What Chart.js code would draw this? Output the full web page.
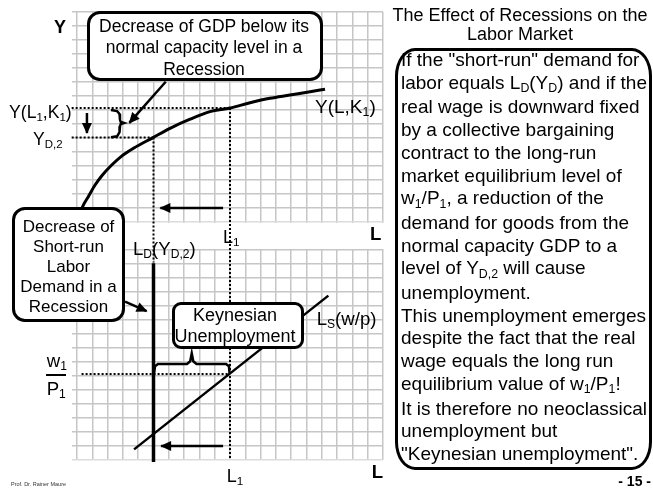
<!DOCTYPE html>
<html>
<head>
<meta charset="utf-8">
<script src="https://cdn.jsdelivr.net/npm/chart.js@4.4.1/dist/chart.umd.min.js"></script>
<style>
  html, body { margin:0; padding:0; background:#fff; overflow:hidden; }
  body { width:653px; height:488px; position:relative; font-family:"Liberation Sans", Arial, sans-serif; color:#000; }
  #c { position:absolute; left:0; top:0; }
  .abs { position:absolute; white-space:pre; }
  .box { position:absolute; box-sizing:border-box; background:#fff; border:3px solid #000; }
  .sub { font-size:.65em; position:relative; top:.28em; }
  .b { font-weight:bold; }
</style>
</head>
<body>
<canvas id="c" width="653" height="488"></canvas>

<!-- right-hand title and text box -->
<div class="abs" style="left:385px;width:270px;top:6.3px;font-size:18px;line-height:18.3px;text-align:center;">The Effect of Recessions on the
Labor Market</div>
<div class="box" style="left:395px;top:48px;width:257px;height:422px;border-width:3.5px;border-radius:20px / 28px;"></div>
<div class="abs" style="left:401px;top:49px;font-size:19px;line-height:22.7px;">If the "short-run" demand for
labor equals L<span class="sub">D</span>(Y<span class="sub">D</span>) and if the
real wage is downward fixed
by a collective bargaining
contract to the long-run
market equilibrium level of
w<span class="sub">1</span>/P<span class="sub">1</span>, a reduction of the
demand for goods from the
normal capacity GDP to a
level of Y<span class="sub">D,2</span> will cause
unemployment.
This unemployment emerges
despite the fact that the real
wage equals the long run
equilibrium value of w<span class="sub">1</span>/P<span class="sub">1</span>!
It is therefore no neoclassical
unemployment but
"Keynesian unemployment".</div>

<!-- callout boxes -->
<div class="box" style="left:87px;top:11px;width:236px;height:70px;border-radius:13px;"></div>
<div class="abs" style="left:86px;width:236px;top:16px;font-size:17.5px;line-height:21.3px;text-align:center;">Decrease of GDP below its
normal capacity level in a
Recession</div>

<div class="box" style="left:12px;top:207px;width:113px;height:115px;border-radius:13px;"></div>
<div class="abs" style="left:12px;width:113px;top:217px;font-size:17px;line-height:20.1px;text-align:center;">Decrease of
Short-run
Labor
Demand in a
Recession</div>

<div class="box" style="left:172px;top:302px;width:132px;height:47px;border-radius:9px;"></div>
<div class="abs" style="left:169px;width:132px;top:304.7px;font-size:18px;line-height:21.6px;text-align:center;">Keynesian
Unemployment</div>

<!-- axis / curve labels -->
<div class="abs b" style="left:54px;top:17px;font-size:18px;line-height:20px;">Y</div>
<div class="abs" style="right:581.3px;top:101.9px;font-size:17.6px;line-height:20px;">Y(L<span class="sub">1</span>,K<span class="sub">1</span>)</div>
<div class="abs" style="left:33px;top:128.9px;font-size:17.6px;line-height:20px;">Y<span class="sub">D,2</span></div>
<div class="abs" style="left:315px;top:95.7px;font-size:19px;line-height:22px;">Y(L,K<span class="sub">1</span>)</div>
<div class="abs b" style="left:370px;top:223.6px;font-size:18.6px;line-height:20px;">L</div>
<div class="abs" style="left:223px;top:226.8px;font-size:18px;line-height:20px;">L<span class="sub">1</span></div>
<div class="abs" style="left:133px;top:238.6px;font-size:18.6px;line-height:20px;">L<span class="sub">D</span>(Y<span class="sub">D,2</span>)</div>
<div class="abs" style="left:316.7px;top:308.6px;font-size:18.6px;line-height:20px;">L<span class="sub">S</span>(w/p)</div>
<div class="abs" style="left:46.7px;top:350.5px;font-size:18.6px;line-height:20px;">w<span class="sub">1</span></div>
<div style="position:absolute;left:46px;top:374px;width:20px;height:2px;background:#000;"></div>
<div class="abs" style="left:46.7px;top:378.8px;font-size:18.6px;line-height:20px;">P<span class="sub">1</span></div>
<div class="abs b" style="left:371.7px;top:461.9px;font-size:18.6px;line-height:20px;">L</div>
<div class="abs" style="left:226.7px;top:465.8px;font-size:18px;line-height:20px;">L<span class="sub">1</span></div>
<div class="abs" style="left:11px;top:481px;font-size:5.5px;line-height:6px;color:#333;">Prof. Dr. Rainer Maure</div>
<div class="abs b" style="right:2px;top:473px;font-size:14px;line-height:16px;">- 15 -</div>

<script>
// ---------------- data ----------------
// Top panel: production function Y(L, K1)   (x = labour L, y = output Y)
const prodL = [0.15, 0.35, 0.74, 1.18, 1.61, 2.27, 2.92, 3.68, 4.97, 6.08, 7.39, 8.69, 10.0, 11.31, 12.61, 13.92, 15.23, 16.21];
const prodY = [0.30, 1.05, 1.81, 2.64, 3.29, 4.07, 4.71, 5.26, 6.03, 6.69, 7.34, 7.88, 8.14, 8.52, 8.84, 9.07, 9.31, 9.48];

// key levels
const L1 = 10;        // long-run employment
const LD2 = 5;        // short-run labour demand L_D(Y_D,2)
const Y1 = 8.14;      // Y(L1,K1)
const YD2 = 6.03;     // Y_D,2
const wP1 = 6.14;     // w1/P1 (bottom panel)

// Bottom panel: labour supply Ls(w/p)
const supplyL = [3.73, 16.43];
const supplyW = [0.76, 11.74];
// Bottom panel: vertical short-run labour demand line
const demandW = [14.05, -0.15];

// Curly brace next to Y axis (top panel)
const braceVX = [2.22, 2.62, 2.78, 2.81, 2.86, 3.07, 2.86, 2.81, 2.78, 2.62, 2.22];
const braceVY = [8.00, 7.92, 7.72, 7.30, 7.14, 7.07, 7.00, 6.84, 6.42, 6.12, 6.05];
// Curly brace above w1/P1 (bottom panel)
const braceHX = [5.03, 5.10, 5.29, 7.19, 7.40, 7.50, 7.60, 7.81, 9.74, 9.93, 9.97];
const braceHY = [6.19, 6.70, 6.86, 6.86, 7.05, 7.62, 7.05, 6.86, 6.86, 6.70, 6.19];

// Arrows [fromX, toX], [fromY, toY]
const arrowTopLeftX = [9.55, 5.45],  arrowTopLeftY = [1.0, 1.0];     // top panel, L1 -> L_D
const arrowBotLeftX = [9.55, 5.50],  arrowBotLeftY = [1.0, 1.0];     // bottom panel
const arrowDownX = [0.65, 0.65],     arrowDownY = [7.79, 6.36];      // Y1 -> Y_D,2
const arrowGdpX = [5.80, 3.42],      arrowGdpY = [10.02, 7.08];      // callout -> brace
const arrowDemX = [3.14, 4.55],      arrowDemY = [11.31, 10.64];     // callout -> L_D line

// ---------------- helpers ----------------
const pts = (xs, ys) => xs.map((x, i) => ({x, y: ys[i]}));
const base = {showLine: true, pointRadius: 0, pointHoverRadius: 0, borderColor: '#000', backgroundColor: '#000', fill: false, clip: false, tension: 0};
const top_ = o => Object.assign({}, base, {yAxisID: 'yTop'}, o);
const bot_ = o => Object.assign({}, base, {yAxisID: 'y'}, o);
const DOT = [2, 2];

const datasets = [
  // top panel
  top_({data: pts(prodL, prodY), borderWidth: 3, cubicInterpolationMode: 'monotone'}),
  top_({data: pts([-0.35, L1], [Y1, Y1]), borderWidth: 2, borderDash: DOT}),
  top_({data: pts([-0.35, LD2], [YD2, YD2]), borderWidth: 2, borderDash: DOT}),
  top_({data: pts([L1, L1], [Y1, -17]), borderWidth: 2, borderDash: DOT}),
  top_({data: pts([LD2, LD2], [YD2, -2.9]), borderWidth: 2, borderDash: DOT}),
  top_({data: pts(braceVX, braceVY), borderWidth: 2.5}),
  top_({data: pts(arrowTopLeftX, arrowTopLeftY), borderWidth: 2.5, arrow: true}),
  top_({data: pts(arrowDownX, arrowDownY), borderWidth: 2.5, arrow: true}),
  top_({data: pts(arrowGdpX, arrowGdpY), borderWidth: 2.5, arrow: true}),
  // bottom panel
  bot_({data: pts([LD2, LD2], demandW), borderWidth: 3.5}),
  bot_({data: pts(supplyL, supplyW), borderWidth: 2.5}),
  bot_({data: pts([0.3, L1], [wP1, wP1]), borderWidth: 2, borderDash: DOT}),
  bot_({data: pts(braceHX, braceHY), borderWidth: 2.5}),
  bot_({data: pts(arrowBotLeftX, arrowBotLeftY), borderWidth: 2.5, arrow: true}),
  bot_({data: pts(arrowDemX, arrowDemY), borderWidth: 2.5, arrow: true}),
];

// white gap between the two panels (hides the vertical grid lines there)
const gapPlugin = {
  id: 'gap',
  beforeDatasetsDraw(chart) {
    const {ctx, chartArea, scales} = chart;
    const y17 = scales.y.getPixelForValue(17), y15 = scales.y.getPixelForValue(15);
    ctx.save();
    ctx.fillStyle = '#fff';
    ctx.fillRect(chartArea.left - 8, y17 + 1, chartArea.right - chartArea.left + 10, y15 - y17 - 2);
    ctx.restore();
  }
};
// arrow heads at the last point of datasets flagged with arrow:true
const arrowPlugin = {
  id: 'arrowheads',
  afterDatasetsDraw(chart) {
    const ctx = chart.ctx;
    chart.data.datasets.forEach((ds, i) => {
      if (!ds.arrow) return;
      const d = chart.getDatasetMeta(i).data;
      const a = d[d.length - 2], b = d[d.length - 1];
      const ang = Math.atan2(b.y - a.y, b.x - a.x);
      const L = 10, W = 5;
      const c = Math.cos(ang), s = Math.sin(ang);
      ctx.save();
      ctx.fillStyle = '#000';
      ctx.beginPath();
      ctx.moveTo(b.x + c * 1, b.y + s * 1);
      ctx.lineTo(b.x - L * c + W * s, b.y - L * s - W * c);
      ctx.lineTo(b.x - L * c - W * s, b.y - L * s + W * c);
      ctx.closePath();
      ctx.fill();
      ctx.restore();
    });
  }
};

const gridColor = v => (v === 16 ? 'rgba(0,0,0,0)' : (v === 0 || v === 17) ? '#dcdcdc' : '#c6c6c6');

new Chart(document.getElementById('c'), {
  type: 'scatter',
  data: {datasets},
  options: {
    responsive: false,
    animation: false,
    devicePixelRatio: 1,
    events: [],
    layout: {autoPadding: false, padding: {left: 72, right: 270, top: 12, bottom: 28}},
    plugins: {legend: {display: false}, tooltip: {enabled: false}},
    scales: {
      x: {
        type: 'linear', min: 0, max: 20,
        ticks: {display: false, stepSize: 1},
        grid: {drawTicks: false, color: '#c6c6c6', lineWidth: 1.5},
        border: {display: false}
      },
      y: {
        type: 'linear', min: 0, max: 32,
        ticks: {display: false, stepSize: 1},
        grid: {
          drawTicks: true, tickLength: 5, lineWidth: 1.5,
          color: ctx => gridColor(ctx.tick && ctx.tick.value),
          tickColor: ctx => gridColor(ctx.tick && ctx.tick.value)
        },
        border: {display: false}
      },
      yTop: {type: 'linear', min: -17, max: 15, display: false}
    }
  },
  plugins: [gapPlugin, arrowPlugin]
});
</script>
</body>
</html>
